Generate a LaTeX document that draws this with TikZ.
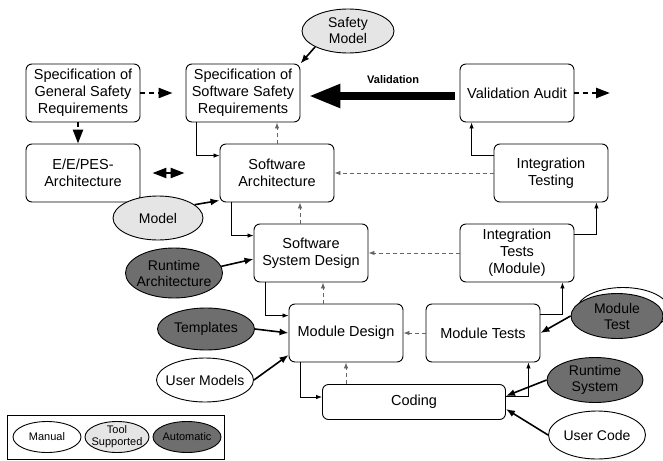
\documentclass[tikz,border=0pt]{standalone}
\usepackage{fontspec}
\setmainfont{Liberation Sans}
\usetikzlibrary{shapes.geometric,arrows.meta}

\definecolor{toolgray}{gray}{0.9}
\definecolor{autogray}{gray}{0.43}

\tikzset{
    box/.style={draw, line width=0.9pt, rounded corners=6pt, minimum width=114pt, minimum height=58pt,
        align=center, inner sep=2pt, font=\fontsize{14.5}{17}\selectfont},
    src/.style={draw, line width=0.9pt, ellipse, minimum width=97pt, minimum height=44pt, inner sep=0pt},
    ltext/.style={align=center, font=\fontsize{14}{16}\selectfont},
    stext/.style={align=center, font=\fontsize{11}{12}\selectfont},
    manual/.style={src, fill=white},
    tool/.style={src, fill=toolgray},
    automatic/.style={src, fill=autogray},
    flow/.style={-{Latex[length=6pt,width=4.5pt]}, line width=0.8pt},
    back/.style={flow, gray!80!black, dash pattern=on 4pt off 3pt},
    feed/.style={-{Latex[length=9pt,width=7pt]}, line width=1.6pt},
    bigdash/.style={-{Triangle[length=14pt,width=10pt]}, line width=2.4pt, dash pattern=on 5pt off 4pt},
}

\begin{document}
\begin{tikzpicture}[x=1pt,y=-1pt]
    \useasboundingbox (0,0) rectangle (663,460);

    % phases
    \node[box] (sg)  at (83,93)  {Specification of\\General Safety\\Requirements};
    \node[box] (ssw) at (243,93) {Specification of\\Software Safety\\Requirements};
    \node[box] (ee)  at (83,173) {E/E/PES-\\Architecture};
    \node[box] (swa) at (277,173) {Software\\Architecture};
    \node[box] (va)  at (517,93) {Validation Audit};
    \node[box] (it)  at (551,173) {Integration\\Testing};
    \node[box] (ssd) at (311,253) {Software\\System Design};
    \node[box] (itm) at (517,253) {Integration\\Tests\\(Module)};
    \node[box] (md)  at (346,333) {Module Design};
    \node[box] (mt)  at (483,333) {Module Tests};
    \node[box, minimum width=183pt, minimum height=35pt] (cod) at (414,402) {Coding};

    % inputs
    \node[tool, minimum width=92pt] (sm) at (348,31) [label={[ltext]center:Safety\\Model}] {};
    \node[tool, minimum width=90pt] (mo) at (158,218) [label={[ltext]center:Model}] {};
    \node[automatic, minimum height=50pt] (ra) at (174,273) [label={[ltext]center:Runtime\\Architecture}] {};
    \node[automatic, minimum height=42pt] (tp) at (206,329) [label={[ltext]center:Templates}] {};
    \node[manual] (um) at (205,380) [label={[ltext]center:User Models}] {};
    \draw[line width=0.9pt] (623,310) ellipse (46 and 22.5);
    \node[automatic, minimum width=92pt, minimum height=45pt] (mtest) at (617,316) [label={[ltext]center:Module\\Test}] {};
    \node[automatic, minimum width=96pt, minimum height=45pt] (rs) at (595,380) [label={[ltext]center:Runtime\\System}] {};
    \node[manual, minimum height=48pt] (uc) at (597,435) [label={[ltext]center:User Code}] {};

    % legend
    \draw[line width=0.9pt] (7,415) rectangle (224,459.5);
    \node[manual, minimum width=68pt, minimum height=31pt] (lm) at (47,437) [label={[stext]center:Manual}] {};
    \node[tool, minimum width=64pt, minimum height=31pt] (lt) at (117,437) [label={[stext]center:Tool\\Supported}] {};
    \node[automatic, minimum width=68pt, minimum height=31pt] (la) at (187,437) [label={[stext]center:Automatic}] {};

    % big arrows
    \coordinate (out) at (610,93);
    \draw[bigdash] (sg.east) -- ([xshift=-13pt]ssw.west);
    \draw[bigdash] ([xshift=-5pt]sg.south) -- ([xshift=-5pt]ee.north);
    \draw[bigdash] (va.east) -- (out);
    \draw[{Triangle[length=14pt,width=10pt]}-{Triangle[length=14pt,width=10pt]}, line width=2.4pt]
        ([xshift=12pt]ee.east) -- ([xshift=-35pt]swa.west);
    \draw[-{Triangle[length=32pt,width=22pt]}, line width=8.5pt]
        ([xshift=-5pt,yshift=-3pt]va.west) -- ([xshift=8pt,yshift=-3pt]ssw.east)
        node[pos=0.42, above=5pt, font=\bfseries\fontsize{11}{12}\selectfont] {Validation};

    % development flow
    \draw[flow] ([xshift=11pt]ssw.south west) |- ([yshift=-12pt]swa.north west);
    \draw[flow] ([xshift=12pt]swa.south west) |- ([yshift=-12pt]ssd.north west);
    \draw[flow] ([xshift=12pt]ssd.south west) |- ([yshift=-12pt]md.north west);
    \draw[flow] ([xshift=12pt]md.south west) |- ([yshift=5pt]cod.west);
    \draw[flow] ([yshift=6pt]cod.east) -| ([xshift=-12pt]mt.south east);
    \draw[flow] ([yshift=-11pt]mt.north east) -| ([xshift=-12pt]itm.south east);
    \draw[flow] ([yshift=-11pt]itm.north east) -| ([xshift=-12pt]it.south east);
    \draw[flow] ([yshift=-12pt]it.north west) -| ([xshift=12pt]va.south west);

    % feedback
    \foreach \a/\b in {it.west/swa.east, itm.west/ssd.east, mt.west/md.east}
        \draw[back] (\a) -- (\b);
    \draw[back] (swa.north) -- (swa.north |- ssw.south);
    \draw[back] ([xshift=-11pt]ssd.north) -- ([xshift=23pt]swa.south);
    \draw[back] ([xshift=-23pt]md.north) -- ([xshift=12pt]ssd.south);
    \draw[back] (md.south |- cod.north) -- (md.south);

    % inputs to phases
    \draw[feed] (sm.south west) -- (ssw.north east);
    \draw[feed] (mo.20) -- ([yshift=2pt]swa.south west);
    \draw[feed] (ra.8) -- ([yshift=-6pt]ssd.west);
    \draw[feed] (tp.east) -- (md.west);
    \draw[feed] (um.east) -- ([yshift=-22pt]md.west);
    \draw[feed] (mtest.west) -- (mt.east);
    \draw[feed] (rs.west) -- ([yshift=6pt]cod.east);
    \draw[feed] (uc.west) -- ([yshift=-7pt]cod.east);
\end{tikzpicture}
\end{document}
